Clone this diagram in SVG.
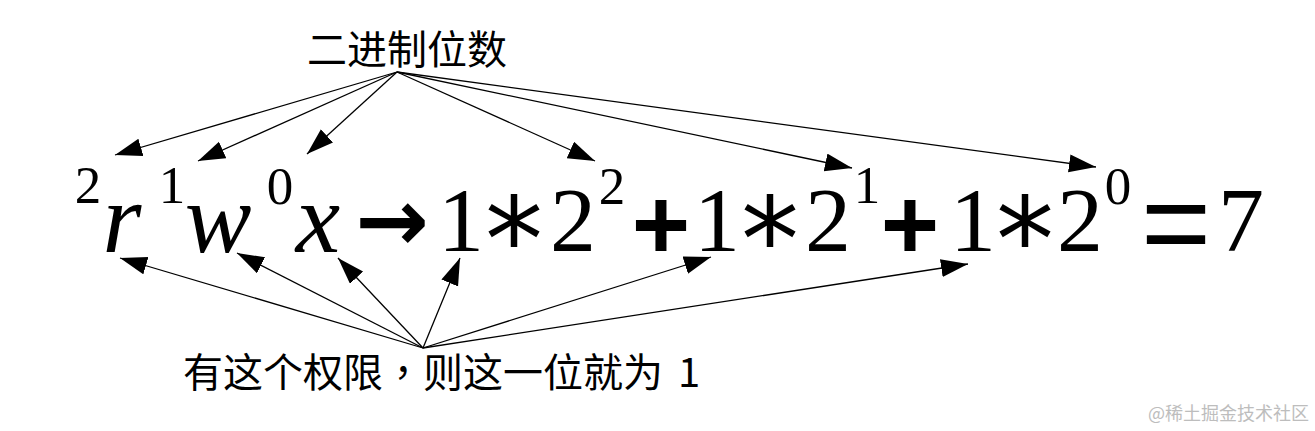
<svg xmlns="http://www.w3.org/2000/svg" width="1315" height="431" viewBox="0 0 1315 431">
<style>
.cjk{font-family:"Noto Sans CJK SC","Noto Sans",sans-serif;font-size:40px;fill:#000}
.tc{font-family:"Noto Sans CJK TC",sans-serif}
.d{font-family:"Liberation Serif",serif;font-size:92px;fill:#000;text-anchor:middle}
.it{font-family:"Liberation Serif",serif;font-style:italic;font-size:100px;fill:#000;text-anchor:middle}
.sup{font-family:"Liberation Serif",serif;font-size:53px;fill:#000;text-anchor:middle}
.ast{font-family:"DejaVu Sans",sans-serif;font-size:116px;fill:#000;text-anchor:middle}
.op{font-family:"Liberation Sans",sans-serif;font-weight:bold;font-size:100px;fill:#000;text-anchor:middle}
.eq{font-family:"Liberation Sans",sans-serif;font-size:120px;fill:#000;text-anchor:middle}
.arr{font-family:"DejaVu Sans",sans-serif;font-weight:bold;font-size:88px;fill:#000;text-anchor:middle}
.wm{font-family:"Noto Sans CJK SC",sans-serif;font-size:18px;fill:#bdbdbd}
.c line{stroke:#000;stroke-width:1.3;marker-end:url(#ah)}
</style>
<defs>
<marker id="ah" markerUnits="userSpaceOnUse" markerWidth="28" markerHeight="20" refX="27" refY="9" orient="auto">
<path d="M0,0 L27,9 L0,18 z" fill="#000"/>
</marker>
</defs>
<rect width="1315" height="431" fill="#fff"/>
<g id="connectors" class="c">
<line x1="397" y1="72" x2="115" y2="155"/>
<line x1="397" y1="72" x2="198" y2="161"/>
<line x1="397" y1="72" x2="307" y2="154"/>
<line x1="397" y1="72" x2="595" y2="161"/>
<line x1="397" y1="72" x2="852" y2="168"/>
<line x1="397" y1="72" x2="1096" y2="167"/>
<line x1="423" y1="348" x2="120" y2="258"/>
<line x1="423" y1="348" x2="237" y2="253"/>
<line x1="423" y1="348" x2="338" y2="258"/>
<line x1="423" y1="348" x2="460" y2="258"/>
<line x1="423" y1="348" x2="711" y2="257"/>
<line x1="423" y1="348" x2="968" y2="264"/>
</g>
<g id="label-top"><text class="cjk" x="307" y="64">二进制位数</text></g>
<g id="label-bottom"><text class="cjk" x="183" y="387">有这个权限<tspan class="tc">，</tspan>则这一位就为 <tspan dx="6">1</tspan></text></g>
<g id="perm-r"><text class="sup" x="88" y="203">2</text><text class="it" x="122" y="252">r</text></g>
<g id="perm-w"><text class="sup" x="172" y="203">1</text><text class="it" x="218" y="252">w</text></g>
<g id="perm-x"><text class="sup" x="280" y="204">0</text><text class="it" x="318" y="252">x</text></g>
<g id="arrow"><text class="arr" x="392" y="251">→</text></g>
<g id="term-2"><text class="d" x="461" y="251">1</text><text class="ast" x="514" y="280">*</text><text class="d" x="573" y="251">2</text><text class="sup" x="612" y="204">2</text></g>
<g id="plus-1"><text class="op" x="661" y="259">+</text></g>
<g id="term-1"><text class="d" x="717" y="251">1</text><text class="ast" x="770" y="280">*</text><text class="d" x="828" y="251">2</text><text class="sup" x="867" y="203">1</text></g>
<g id="plus-2"><text class="op" x="910" y="259">+</text></g>
<g id="term-0"><text class="d" x="973" y="251">1</text><text class="ast" x="1025" y="280">*</text><text class="d" x="1080" y="251">2</text><text class="sup" x="1118" y="204">0</text></g>
<g id="result"><text class="eq" x="1176" y="264">=</text><text class="d" x="1241" y="251">7</text></g>
<g id="watermark"><text class="wm" x="1148" y="420">@稀土掘金技术社区</text></g>
</svg>
